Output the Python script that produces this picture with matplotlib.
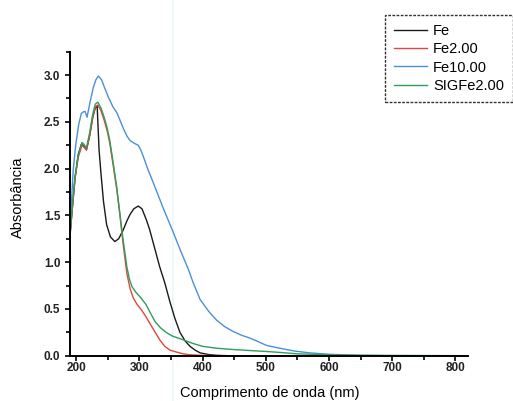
import matplotlib
matplotlib.use("Agg")
import matplotlib.pyplot as plt
from matplotlib.lines import Line2D
from matplotlib.ticker import MultipleLocator

plt.rcParams["font.family"] = ["Liberation Sans", "DejaVu Sans"]

# ---------------------- data ----------------------
fe_x = [190, 194, 198, 203, 208, 212, 216, 221, 226, 230, 233, 236, 239,
        243, 248, 254, 261, 267, 274, 280, 285, 291, 298, 304, 311, 316,
        322, 332, 340, 348, 356, 364, 372, 380, 388, 396, 410, 422, 440,
        500, 600, 820]
fe_y = [1.28, 1.6, 1.9, 2.15, 2.26, 2.24, 2.2, 2.35, 2.55, 2.65, 2.67, 2.2,
        1.95, 1.65, 1.4, 1.27, 1.22, 1.25, 1.34, 1.44, 1.51, 1.57, 1.6, 1.57,
        1.45, 1.35, 1.2, 0.95, 0.78, 0.58, 0.4, 0.25, 0.16, 0.1, 0.06, 0.03,
        0.012, 0.004, 0.0, 0.0, 0.0, 0.0]

fe2_x = [190, 194, 198, 203, 209, 212, 216, 221, 226, 230, 234, 239, 244,
         249, 253, 258, 264, 269, 274, 280, 285, 290, 296, 303, 310, 316,
         324, 332, 340, 348, 358, 369, 380, 396, 430, 600, 820]
fe2_y = [1.3, 1.6, 1.9, 2.12, 2.25, 2.23, 2.2, 2.35, 2.55, 2.66, 2.68, 2.62,
         2.52, 2.4, 2.27, 2.05, 1.78, 1.5, 1.2, 0.88, 0.72, 0.62, 0.55,
         0.49, 0.42, 0.35, 0.26, 0.17, 0.1, 0.06, 0.04, 0.02, 0.01, 0.004,
         0.0, 0.0, 0.0]

fe10_x = [190, 192, 195, 199, 204, 208, 212, 214, 217, 222, 227, 231, 235,
          240, 245, 251, 258, 264, 269, 275, 280, 285, 292, 298, 302, 306,
          314, 320, 327, 338, 346, 354, 361, 367, 372, 377, 385, 396, 410,
          422, 435, 448, 461, 474, 488, 501, 522, 545, 570, 600, 650, 700,
          820]
fe10_y = [1.3, 1.6, 1.98, 2.25, 2.48, 2.59, 2.61, 2.61, 2.55, 2.72, 2.87,
          2.95, 2.99, 2.95, 2.86, 2.76, 2.66, 2.6, 2.52, 2.42, 2.35, 2.3,
          2.27, 2.25, 2.2, 2.13, 1.98, 1.88, 1.76, 1.57, 1.44, 1.31, 1.19,
          1.09, 1.01, 0.93, 0.78, 0.6, 0.47, 0.38, 0.31, 0.26, 0.22, 0.19,
          0.15, 0.11, 0.08, 0.05, 0.03, 0.015, 0.004, 0.0, 0.0]

sig_x = [190, 194, 198, 203, 209, 212, 216, 221, 226, 230, 234, 239, 244,
         249, 253, 258, 264, 269, 274, 280, 284, 288, 294, 302, 310, 317,
         325, 333, 342, 352, 369, 385, 400, 422, 450, 475, 501, 522, 550,
         600, 650, 820]
sig_y = [1.3, 1.62, 1.92, 2.14, 2.28, 2.26, 2.22, 2.38, 2.58, 2.69, 2.71,
         2.65, 2.55, 2.43, 2.3, 2.08, 1.8, 1.52, 1.24, 0.95, 0.82, 0.74,
         0.68, 0.62, 0.55, 0.46, 0.36, 0.3, 0.25, 0.21, 0.17, 0.13, 0.1,
         0.08, 0.065, 0.055, 0.045, 0.035, 0.02, 0.01, 0.004, 0.0]

series = [
    ("Fe", fe_x, fe_y, "#1a1a1a"),
    ("Fe2.00", fe2_x, fe2_y, "#e2453c"),
    ("Fe10.00", fe10_x, fe10_y, "#4a8fdc"),
    ("SIGFe2.00", sig_x, sig_y, "#2f9e5c"),
]

# ---------------------- plot ----------------------
fig = plt.figure(figsize=(5.13, 4.01), dpi=100)
ax = fig.add_axes([70 / 513, 1 - 355.7 / 401, 398 / 513, 304 / 401])

# faint scan line seen in the original
fig.add_artist(Line2D([173 / 513, 173 / 513], [0, 1], color="#eef8f9",
                      lw=1.2, transform=fig.transFigure, zorder=0))

for name, xs, ys, color in series:
    ax.plot(xs, ys, color=color, lw=1.0, label=name)

ax.set_xlim(190, 820)
ax.set_ylim(0, 3.25)
ax.xaxis.set_major_locator(MultipleLocator(100))
ax.xaxis.set_minor_locator(MultipleLocator(50))
ax.yaxis.set_major_locator(MultipleLocator(0.5))
ax.yaxis.set_minor_locator(MultipleLocator(0.25))
ax.yaxis.set_major_formatter(plt.FuncFormatter(lambda v, p: f"{v:.1f}"))
ax.patch.set_alpha(0)

for side in ("top", "right"):
    ax.spines[side].set_visible(False)
for side in ("left", "bottom"):
    ax.spines[side].set_linewidth(1.4)

ax.tick_params(which="both", direction="out", width=1.2, labelsize=8.5)
ax.tick_params(which="major", length=3.5)
ax.tick_params(which="minor", length=3)
ax.tick_params(axis="x", which="major", pad=1)
ax.tick_params(axis="y", which="major", pad=3.5)
for lbl in ax.get_xticklabels() + ax.get_yticklabels():
    lbl.set_fontweight("bold")
    lbl.set_color("#222222")

ax.set_xlabel("Comprimento de onda (nm)", fontsize=10.5)
ax.set_ylabel("Absorbância", fontsize=10.5)
ax.xaxis.set_label_coords(0.501, -0.1)
ax.yaxis.set_label_coords(-0.113, 0.522)

leg = fig.legend(loc="upper left", bbox_to_anchor=(385 / 513, 1 - 15 / 401),
                 bbox_transform=fig.transFigure, fontsize=10.5,
                 handlelength=2.3, handletextpad=0.4, labelspacing=0.3,
                 borderpad=0.6, borderaxespad=0, fancybox=False,
                 framealpha=1)
leg.get_frame().set_edgecolor("#333333")
leg.get_frame().set_linestyle((0, (2, 1)))
leg.get_frame().set_linewidth(1.0)

fig.savefig("out.png", dpi=100)
